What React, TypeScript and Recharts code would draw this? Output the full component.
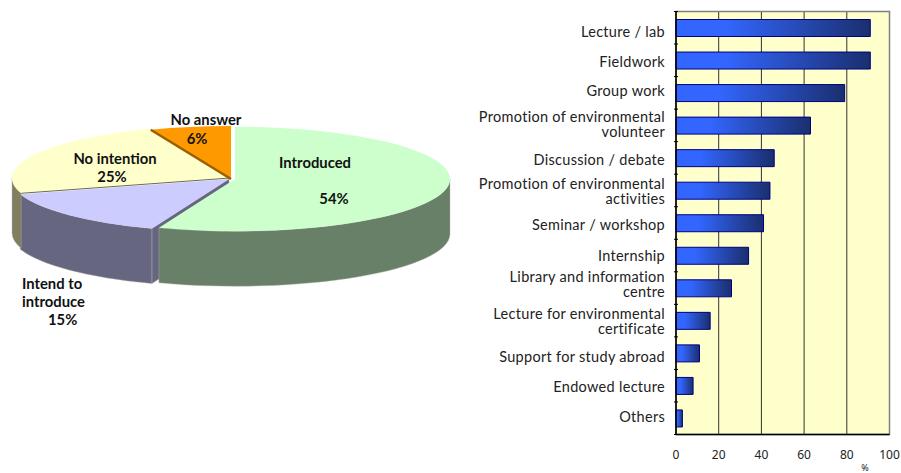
import { Bar, BarChart, CartesianGrid, Pie, PieChart, ReferenceArea, XAxis, YAxis } from "recharts";

const sliceNames = ["Introduced", "Intend to introduce", "No intention", "No answer"];
const sliceValues = [54, 15, 25, 6];

const categories = [
  "Lecture / lab",
  "Fieldwork",
  "Group work",
  "Promotion of environmental\nvolunteer",
  "Discussion / debate",
  "Promotion of environmental\nactivities",
  "Seminar / workshop",
  "Internship",
  "Library and information\ncentre",
  "Lecture for environmental\ncertificate",
  "Support for study abroad",
  "Endowed lecture",
  "Others",
];
const percents = [91, 91, 79, 63, 46, 44, 41, 34, 26, 16, 11, 8, 3];
const xTicks = [0, 20, 40, 60, 80, 100];

const pieData = sliceNames.map((name, i) => ({ name, value: sliceValues[i] }));
const barData = categories.map((name, i) => ({ name, value: percents[i] }));

// look of each slice: explode offset, radius tweak, top / side colours, cut edge
const sliceStyle: Record<string, any> = {
  Introduced: { dx: 4, dy: 0, dr: -3, top: "#ccffcc", side: "#688068", wall: "none", edge: "none", edgeW: 0 },
  "Intend to introduce": { dx: -2, dy: 0, dr: 0, top: "#ccccff", side: "#666680", wall: "#666680", edge: "none", edgeW: 0 },
  "No intention": { dx: -1, dy: -1, dr: 0, top: "#ffffcc", side: "#808060", wall: "none", edge: "#6b6b55", edgeW: 1 },
  "No answer": { dx: 0, dy: 0, dr: 0, top: "#ff9900", side: "#805000", wall: "none", edge: "#9c5f00", edgeW: 2.5 },
};

const SQUASH = 0.243;
const DEPTH = 55;
const rad = Math.PI / 180;

// the original 3D pie is slightly distorted towards the lower left
function warp(a: number) {
  return a < 338.4 ? a + 6.5 * Math.sin((a * Math.PI) / 338.4) : a;
}

function makeSliceShape(layer: "wall" | "side" | "top") {
  return function SliceShape(props: any) {
    const s = sliceStyle[props.name ?? props.payload?.name];
    const rx = props.outerRadius + s.dr;
    const ry = rx * SQUASH;
    const cx = props.cx + s.dx;
    const cy = props.cy + s.dy;
    const a = warp(90 - props.startAngle);
    const b = warp(90 - props.endAngle);
    const pt = (deg: number, down = 0) =>
      `${cx + rx * Math.sin(deg * rad)} ${cy - ry * Math.cos(deg * rad) + down}`;

    if (layer === "top") {
      const large = b - a > 180 ? 1 : 0;
      return (
        <g>
          <path d={`M${cx} ${cy} L${pt(a)} A${rx} ${ry} 0 ${large} 1 ${pt(b)} Z`} fill={s.top} />
          {s.edgeW > 0 && (
            <path d={`M${cx} ${cy} L${pt(a)}`} stroke={s.edge} strokeWidth={s.edgeW} fill="none" />
          )}
        </g>
      );
    }
    if (layer === "wall") {
      if (s.wall === "none") return <g />;
      return (
        <path
          d={`M${cx} ${cy} L${pt(a)} L${pt(a, DEPTH)} L${cx} ${cy + DEPTH} Z`}
          fill={s.wall}
          stroke="#a0a0b4"
          strokeWidth={0.6}
        />
      );
    }
    const from = Math.max(a, 90);
    const to = Math.min(b, 270);
    if (from >= to) return <g />;
    return (
      <path
        d={`M${pt(from)} A${rx} ${ry} 0 0 1 ${pt(to)} L${pt(to, DEPTH)} A${rx} ${ry} 0 0 0 ${pt(from, DEPTH)} Z`}
        fill={s.side}
        stroke="#b4b4a8"
        strokeWidth={0.4}
      />
    );
  };
}

const pieLabels = [
  { text: "Introduced", x: 315, y: 168, anchor: "middle" },
  { text: "54%", x: 334, y: 204, anchor: "middle" },
  { text: "No answer", x: 206, y: 125, anchor: "middle" },
  { text: "6%", x: 197, y: 144, anchor: "middle" },
  { text: "No intention", x: 115, y: 164, anchor: "middle" },
  { text: "25%", x: 112, y: 182, anchor: "middle" },
  { text: "Intend to", x: 22, y: 289, anchor: "start" },
  { text: "introduce", x: 22, y: 307, anchor: "start" },
  { text: "15%", x: 48, y: 325, anchor: "start" },
];

// the source's labels are not quite centred on their bars
const labelShift = [4, 2, -2, -1, 2, 1, 2, 0, -3.5, 1, 4, 1, -1];
const BAND = 32.54;

function CategoryTick({ x, y, payload, index }: any) {
  const lines = String(payload.value).split("\n");
  const mid = y + labelShift[index];
  return (
    <g>
      {index === 0 && <line x1={x} x2={x + 4} y1={y - BAND / 2} y2={y - BAND / 2} stroke="#000" />}
      <line x1={x} x2={x + 4} y1={y + BAND / 2} y2={y + BAND / 2} stroke="#000" />
      {lines.map((line, i) => (
        <text
          key={line}
          x={x - 9}
          y={mid + (i - (lines.length - 1) / 2) * 15.5 + 5}
          textAnchor="end"
          fontFamily="Lato, sans-serif"
          fontSize={14.5}
          letterSpacing={0.3}
          fill="#222"
        >
          {line}
        </text>
      ))}
    </g>
  );
}

export default function App() {
  return (
    <div style={{ position: "absolute", left: 0, top: 0, width: 901, height: 473, background: "#fff" }}>
      <div style={{ position: "absolute", left: 0, top: 0 }}>
        <PieChart width={460} height={340} margin={{ top: 0, right: 0, bottom: 0, left: 0 }}>
          {(["wall", "side", "top"] as const).map((layer) => {
            const shape = makeSliceShape(layer);
            return (
              <Pie
                key={layer}
                data={pieData}
                dataKey="value"
                nameKey="name"
                cx={231}
                cy={179}
                outerRadius={218}
                startAngle={90}
                endAngle={-270}
                stroke="none"
                isAnimationActive={false}
                shape={shape}
                activeShape={shape}
                inactiveShape={shape}
                rootTabIndex={-1}
              />
            );
          })}
        </PieChart>
      </div>
      {/* pie labels sit in their own layer, the chart puts its sectors above plain children */}
      <svg width={460} height={340} style={{ position: "absolute", left: 0, top: 0 }}>
        {pieLabels.map((l) => (
          <text
            key={l.text}
            x={l.x}
            y={l.y}
            textAnchor={l.anchor as any}
            fontFamily="Lato, sans-serif"
            fontWeight={700}
            fontSize={14.8}
            fill="#111"
          >
            {l.text}
          </text>
        ))}
      </svg>
      <div style={{ position: "absolute", left: 460, top: 0 }}>
        <BarChart
          width={441}
          height={473}
          data={barData}
          layout="vertical"
          margin={{ top: 11.5, right: 11.5, bottom: 0, left: 0 }}
        >
          <defs>
            <linearGradient id="barGrad" x1="0" y1="0" x2="1" y2="0">
              <stop offset="0%" stopColor="#3366ff" />
              <stop offset="25%" stopColor="#3366ff" />
              <stop offset="100%" stopColor="#1a2f6e" />
            </linearGradient>
          </defs>
          <CartesianGrid horizontal={false} stroke="#333" fill="#ffffcc" />
          <ReferenceArea x1={0} x2={100} fill="none" stroke="#808080" strokeWidth={1.5} />
          <XAxis
            type="number"
            domain={[0, 100]}
            ticks={xTicks}
            height={38.5}
            tickLine={false}
            tickMargin={10}
            axisLine={{ stroke: "#000", strokeWidth: 1.5 }}
            tick={{ fontFamily: "'Noto Sans', sans-serif", fontSize: 12, fill: "#222" }}
          />
          <YAxis
            type="category"
            dataKey="name"
            width={216}
            interval={0}
            tickLine={false}
            tickSize={0}
            axisLine={{ stroke: "#000", strokeWidth: 1.5 }}
            tick={CategoryTick}
          />
          <Bar dataKey="value" barSize={17} fill="url(#barGrad)" stroke="#000080" strokeWidth={1} isAnimationActive={false} />
          <text x={405} y={471} fontFamily="'Noto Sans', sans-serif" fontSize={9} fill="#222" textAnchor="middle">
            %
          </text>
        </BarChart>
      </div>
    </div>
  );
}
